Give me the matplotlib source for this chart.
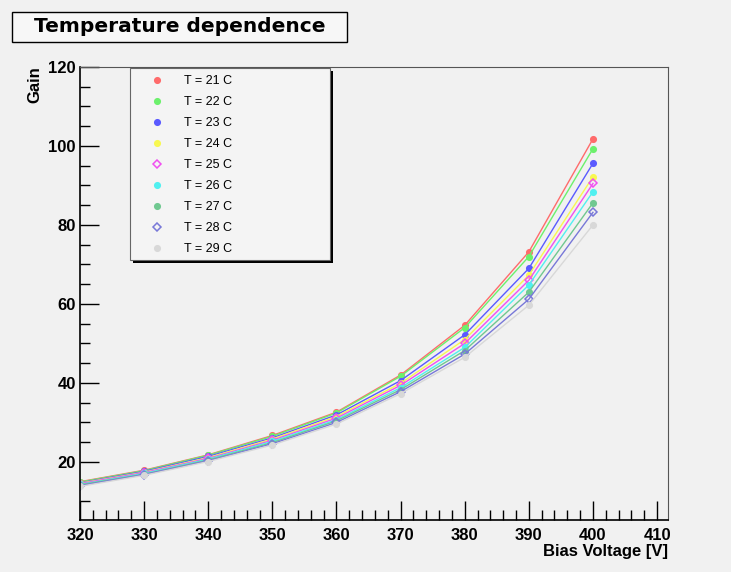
import matplotlib.pyplot as plt
from matplotlib.patches import Rectangle
from matplotlib.ticker import MultipleLocator

plt.rcParams['font.family'] = ['Liberation Sans', 'DejaVu Sans']

voltage = [320, 330, 340, 350, 360, 370, 380, 390, 400]
temps = [21, 22, 23, 24, 25, 26, 27, 28, 29]

gain_21 = [15.0, 17.9, 21.8, 26.7, 32.6, 42.0, 54.6, 73.2, 101.8]
gain_22 = [14.9, 17.8, 21.7, 26.5, 32.4, 41.7, 54.0, 72.0, 99.3]
gain_23 = [14.7, 17.6, 21.4, 26.1, 31.9, 40.6, 52.2, 69.0, 95.6]
gain_24 = [14.6, 17.4, 21.1, 25.8, 31.5, 39.9, 51.0, 67.3, 92.2]
gain_25 = [14.5, 17.3, 20.9, 25.5, 31.1, 39.4, 50.0, 66.0, 90.5]
gain_26 = [14.3, 17.1, 20.7, 25.2, 30.7, 38.8, 49.0, 64.8, 88.4]
gain_27 = [14.2, 16.9, 20.5, 24.9, 30.4, 38.3, 48.2, 63.0, 85.6]
gain_28 = [14.0, 16.8, 20.3, 24.6, 30.0, 37.8, 47.3, 61.2, 83.2]
gain_29 = [13.8, 16.6, 20.1, 24.3, 29.6, 37.3, 46.5, 59.7, 80.0]

gains = [gain_21, gain_22, gain_23, gain_24, gain_25,
         gain_26, gain_27, gain_28, gain_29]
colors = ['#ff6b6b', '#6cf06c', '#5a5aff', '#f8f850', '#f050f0',
          '#50f0f0', '#70c890', '#7878d8', '#d8d8d8']
markers = ['o', 'o', 'o', 'o', 'D', 'o', 'o', 'D', 'o']

bg = '#f1f1f1'
fig = plt.figure(figsize=(7.31, 5.72), dpi=100, facecolor=bg)
ax = fig.add_axes([0.1094, 0.0909, 0.8044, 0.792], facecolor=bg)

handles = []
for t, g, c, m in zip(temps, gains, colors, markers):
    fill = 'none' if m == 'D' else c
    h, = ax.plot(voltage, g, color=c, lw=1.0, marker=m, ms=4,
                 mfc=fill, mec=c, mew=1.1, label='T = %d C' % t)
    handles.append(h)

ax.set_xlim(320, 411.7)
ax.set_ylim(5.3, 120)
ax.xaxis.set_major_locator(MultipleLocator(10))
ax.xaxis.set_minor_locator(MultipleLocator(2))
ax.yaxis.set_major_locator(MultipleLocator(20))
ax.yaxis.set_minor_locator(MultipleLocator(5))
ax.tick_params(which='both', direction='in', top=False, right=False,
               labelsize=12, width=1.0)
ax.tick_params(axis='x', which='major', length=14, pad=6)
ax.tick_params(axis='x', which='minor', length=7)
ax.tick_params(axis='y', which='major', length=14, pad=3)
ax.tick_params(axis='y', which='minor', length=7)
ax.set_yticks([20, 40, 60, 80, 100, 120])
for lab in ax.get_xticklabels() + ax.get_yticklabels():
    lab.set_fontweight('bold')
for s in ['left', 'bottom']:
    ax.spines[s].set_linewidth(1.2)
for s in ['top', 'right']:
    ax.spines[s].set_linewidth(0.8)
    ax.spines[s].set_color('#555555')

fig.text(0.914, 0.036, 'Bias Voltage [V]', ha='right', va='center',
         fontsize=12, fontweight='bold')
fig.text(0.048, 0.885, 'Gain', rotation=90, ha='center', va='top',
         fontsize=12, fontweight='bold')

# title box
fig.patches.append(Rectangle((12 / 731, 1 - 42 / 572), 335 / 731, 30 / 572,
                             transform=fig.transFigure, facecolor='#f7f7f7',
                             edgecolor='black', lw=1.0))
fig.text(180 / 731, 1 - 27 / 572, 'Temperature dependence', ha='center',
         va='center', fontsize=14.5, fontweight='bold', family='DejaVu Sans')

# legend box with shadow
fig.patches.append(Rectangle((133 / 731, 1 - 263 / 572), 200 / 731, 192 / 572,
                             transform=fig.transFigure, facecolor='black',
                             edgecolor='none', zorder=5))
fig.patches.append(Rectangle((130 / 731, 1 - 260 / 572), 200 / 731, 192 / 572,
                             transform=fig.transFigure, facecolor='#f4f4f4',
                             edgecolor='#666666', lw=0.8, zorder=6))
leg = fig.legend(handles=handles, loc='upper left',
                 bbox_to_anchor=(144 / 731, 1 - 70 / 572), frameon=False,
                 fontsize=9, labelspacing=0.72, handlelength=1.2,
                 handletextpad=1.6, borderaxespad=0)
leg.set_zorder(7)
for lh in leg.get_lines():
    lh.set_linestyle('none')

fig.savefig('out.png', dpi=100, facecolor=bg)
